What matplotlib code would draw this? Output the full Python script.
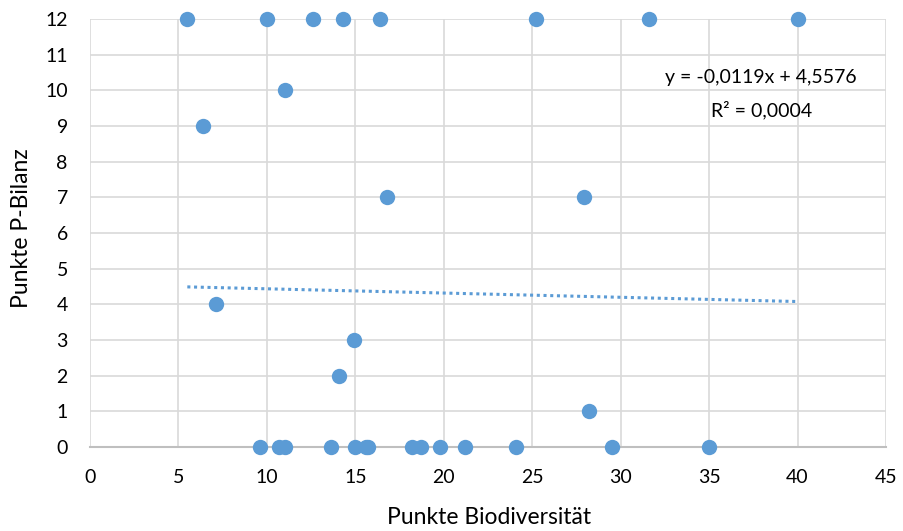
import numpy as np
import matplotlib.pyplot as plt

plt.rcParams['font.family'] = ['Lato', 'DejaVu Sans']

# Punkte Biodiversität / Punkte P-Bilanz
bio = [5.5, 10.0, 12.6, 14.3, 16.4, 25.2, 31.6, 40.0,
       11.0, 6.4, 16.8, 27.9, 7.1, 14.9, 14.1, 28.2,
       9.6, 10.7, 11.0, 13.6, 15.0, 15.6, 15.7, 18.2, 18.7,
       19.8, 21.2, 24.1, 29.5, 35.0]
pbil = [12, 12, 12, 12, 12, 12, 12, 12,
        10, 9, 7, 7, 4, 3, 2, 1,
        0, 0, 0, 0, 0, 0, 0, 0, 0,
        0, 0, 0, 0, 0]
trend = [-0.0119, 4.5576]
eq_text = "y = -0,0119x + 4,5576"
r2_text = "R² = 0,0004"

blue = '#5B9BD5'

fig = plt.figure(figsize=(9.04, 5.31), dpi=100)
ax = fig.add_axes([0.0996, 0.158, 0.8805, 0.806])

ax.scatter(bio, pbil, s=122, color=blue, zorder=3, clip_on=False, linewidths=0)

xs = np.array([min(bio), max(bio)])
ax.plot(xs, np.polyval(trend, xs), linestyle=(0, (1, 1.2)), color=blue, linewidth=2.2, zorder=2)

ax.set_xlim(0, 45)
ax.set_ylim(0, 12)
ax.set_xticks(range(0, 46, 5))
ax.set_yticks(range(0, 13))
ax.grid(True, color='#d9d9d9', linewidth=1.2)
ax.set_axisbelow(True)
for s in ['top', 'right', 'left']:
    ax.spines[s].set_visible(False)
ax.spines['bottom'].set_color('#bfbfbf')
ax.spines['bottom'].set_linewidth(1.5)
ax.tick_params(length=0, labelsize=14, colors='#000000')
ax.tick_params(axis='x', pad=16)
ax.tick_params(axis='y', pad=16)

ax.text(37.95, 10.35, eq_text, ha='center', va='center', fontsize=14)
ax.text(37.95, 9.45, r2_text, ha='center', va='center', fontsize=14)

fig.text(489 / 904, 1 - 518 / 531, 'Punkte Biodiversität', ha='center', va='center', fontsize=16.5)
fig.text(22 / 904, 1 - 228 / 531, 'Punkte P-Bilanz', ha='center', va='center', fontsize=16.5, rotation=90)

fig.savefig('out.png', dpi=100)
